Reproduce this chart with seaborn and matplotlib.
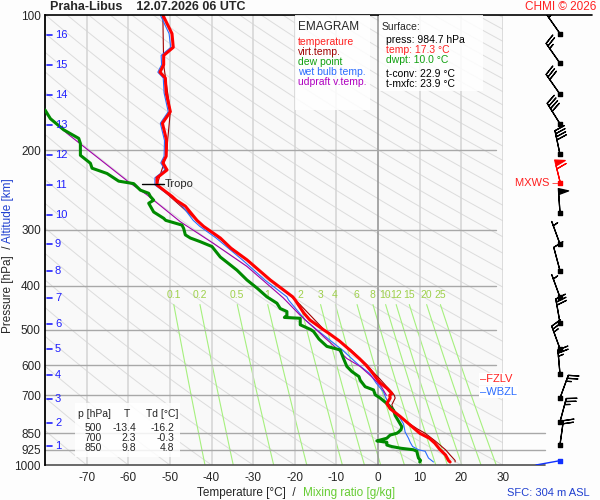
import numpy as np
import matplotlib
matplotlib.use("Agg")
import matplotlib.pyplot as plt
import seaborn as sns
from matplotlib.patches import Rectangle

# ---- sounding data ----
p_temp = [984.7, 977, 950, 925, 894, 872, 850, 815, 780, 750, 730, 710, 700, 694, 675, 657,
          636, 620, 600, 580, 555, 530, 510, 500, 476, 460, 440, 430, 423, 388, 350, 330,
          313, 295, 286, 266, 258, 253, 245, 238.6, 230, 221, 213, 206, 190, 174, 164, 149,
          138, 134, 129, 123, 118, 110, 100]
temp = [17.3, 16.9, 16.2, 14.9, 13.6, 12.3, 10.0, 7.7, 5.3, 2.9, 2.1, 2.9, 2.8, 3.3, 2.1, 0.5,
        -0.7, -1.6, -2.9, -4.5, -6.8, -9.3, -11.8, -13.2, -16.4, -17.8, -19.2, -19.9, -20.5,
        -25.9, -31.5, -35.3, -37.9, -41.9, -43.5, -46.3, -48.5, -49.5, -51.5, -53.1, -53.1,
        -50.7, -51.7, -50.9, -50.8, -51.8, -49.9, -50.9, -51.1, -52.4, -51.5, -51.5, -49.2,
        -49.5, -51.7]

p_virt = [984.7, 977, 950, 925, 884, 850, 832, 790, 755, 735, 710, 700, 688, 670, 642, 620,
          600, 555, 500, 430, 388, 350, 295, 238.6, 206, 164, 129, 100]
virt = [18.5, 18.5, 17.3, 16.2, 13.7, 11.3, 9.5, 5.8, 3.8, 3.3, 4.1, 3.9, 3.3, 2.1, 0.3, -1.3,
        -2.6, -6.5, -13.0, -19.8, -25.8, -31.5, -41.9, -53.1, -50.9, -49.9, -51.5, -51.7]

p_dew = [984.7, 977, 965, 950, 932, 925, 918, 910, 903, 895, 890, 884, 880, 872, 858, 850,
         845, 835, 822, 810, 790, 776, 755, 730, 710, 698, 681, 670, 648, 636, 620, 604,
         580, 555, 545, 525, 505, 500, 488, 472, 470, 465, 456, 449, 437, 423, 405, 388,
         369, 345, 327, 319, 313, 308, 298, 293, 286, 283, 274, 262, 258, 253, 249, 245,
         237, 234, 225, 219, 213.5, 205, 193, 188, 180, 170, 162.5]
dew = [10.0, 10.2, 9.7, 9.5, 9.3, 8.5, 5.5, 3.3, 2.1, 2.1, 2.1, -0.3, 0.5, 2.1, 2.9, 4.5,
       4.9, 5.5, 5.7, 5.3, 4.6, 4.1, 3.7, 2.1, 0.5, -0.7, -1.1, -3.1, -4.3, -4.6, -6.3, -7.5,
       -8.3, -9.1, -12.3, -14.2, -15.5, -16.2, -18.7, -18.7, -22.5, -21.9, -21.9, -23.5,
       -24.3, -26.7, -29.0, -31.5, -33.9, -37.9, -39.9, -42.7, -45.1, -46.3, -46.7, -47.1,
       -51.0, -51.5, -53.9, -55.1, -53.9, -54.7, -55.1, -57.1, -58.7, -62.3, -65.1, -68.7,
       -69.1, -71.5, -71.5, -71.9, -75.5, -78.7, -80.0]

p_wet = [984.7, 965, 932, 925, 910, 890, 872, 845, 810, 780, 730, 700, 688, 657, 626, 600,
         555, 500, 476, 430, 423, 388, 350, 313, 295, 286, 266, 253, 238.6, 230, 221, 213,
         206, 190, 174, 164, 149, 138, 134, 129, 123, 118, 110, 100]
wet = [13.3, 12.1, 11.3, 9.7, 8.3, 7.7, 7.3, 6.5, 6.1, 5.0, 2.5, 1.6, 1.3, -0.5, -2.0, -4.6,
       -8.6, -14.8, -17.5, -21.5, -21.9, -27.2, -32.6, -38.9, -42.8, -44.4, -47.0, -49.8,
       -53.6, -53.6, -51.2, -52.2, -51.4, -51.3, -52.3, -50.4, -51.4, -51.6, -52.9, -52.0,
       -52.1, -49.8, -50.2, -52.3]

p_updraft = [700, 670, 642, 604, 580, 545, 502, 465, 425, 362, 322, 288, 251, 236.6, 183.3, 166.8]
updraft = [2.0, 0.8, -1.1, -4.3, -7.5, -10.5, -14.7, -18.7, -22.8, -31.5, -39.5, -47.5, -55.5,
           -59.5, -74.7, -79.5]

# altitude marks [km] and the pressure where they sit
alt_km = [1, 2, 3, 4, 5, 6, 7, 8, 9, 10, 11, 12, 13, 14, 15, 16]
alt_p = [907, 808, 714, 631, 553, 487, 425, 371, 323, 278, 239, 205, 175.6, 150.6, 129, 110.8]

# wind: pressure, direction [deg], speed [kt]
wind_p = [110, 128, 150, 174.5, 204, 275, 323, 370, 424, 483, 552, 628, 710, 802, 901]
wind_dir = [325, 325, 325, 328, 348, 356, 340, 345, 340, 350, 340, 355, 20, 15, 8]
wind_spd = [5, 25, 30, 40, 40, 50, 5, 10, 5, 30, 25, 25, 25, 25, 20]
mxws_p, mxws_dir, mxws_spd = 236, 346, 60
sfc_p = 978

mix_ratios = [0.1, 0.2, 0.5, 1, 2, 3, 4, 6, 8, 10, 12, 15, 20, 25]
mix_labels = ['0.1', '0.2', '0.5', '1', '2', '3', '4', '6', '8', '10', '12', '15', '20', '25']

p_ticks = [100, 200, 300, 400, 500, 600, 700, 850, 925, 1000]
t_ticks = [-70, -60, -50, -40, -30, -20, -10, 0, 10, 20, 30]

table_p = ['500', '700', '850']
table_t = ['-13.4', '2.3', '9.8']
table_td = ['-16.2', '-0.3', '4.8']

# ---- style ----
sns.set_style("white")
plt.rcParams['font.family'] = ['Liberation Sans', 'DejaVu Sans']
plt.rcParams['font.size'] = 8

W, H = 600, 500
fig = plt.figure(figsize=(6, 5), dpi=100, facecolor='#fdfdfd')


def fx(x):
    return x / W


def fy(y):
    return 1 - y / H


ax = fig.add_axes([fx(45), fy(465), 458 / W, 450 / H])
ax.set_facecolor('#f9f9f9')
ax.set_yscale('log')
ax.set_xlim(-80, 30)
ax.set_ylim(1000, 100)

# dry adiabats
pp = np.logspace(np.log10(90), np.log10(1050), 80)
for th in np.arange(-80, 330, 10):
    ax.plot((th + 273.15) * (pp / 1000) ** 0.2857 - 273.15, pp, color='#dcdcdc', lw=0.7, zorder=1)

# mixing ratio lines
pm = np.linspace(440, 1050, 40)
for w, lab in zip(mix_ratios, mix_labels):
    e = w * pm / (622 + w)
    ln = np.log(e / 6.112)
    ax.plot(243.5 * ln / (17.67 - ln), pm, color='#a6f07e', lw=0.8, zorder=2)
    e0 = w * 437 / (622 + w)
    l0 = np.log(e0 / 6.112)
    ax.text(243.5 * l0 / (17.67 - l0), 418, lab, color='#9ed04a', fontsize=7.5, ha='center', va='center', zorder=3)

# grid
for t in t_ticks:
    ax.axvline(t, color='#909090' if t == 0 else '#d4d4d4', lw=1.1, zorder=2)
for p in p_ticks[1:-1]:
    ext = 40 if p >= 850 else 28.3
    ax.plot([-80, ext], [p, p], color='#a8a8a8', lw=1.0, zorder=2, clip_on=False)
ax.plot([-80, 40], [1000, 1000], color='#505050', lw=1.2, zorder=2, clip_on=False)
ax.plot([-80, 51.3], [100, 100], color='black', lw=1.2, zorder=6, clip_on=False)

for s in ['top', 'right', 'bottom']:
    ax.spines[s].set_visible(False)
ax.spines['left'].set_color('black')
ax.spines['left'].set_linewidth(1.3)

ax.set_yticks(p_ticks)
ax.set_yticklabels([str(p) for p in p_ticks], fontsize=8.5)
ax.yaxis.set_minor_locator(matplotlib.ticker.NullLocator())
ax.set_xticks(t_ticks)
ax.set_xticklabels([str(t) for t in t_ticks], fontsize=8.5)
ax.tick_params(length=0, pad=3)
ax.tick_params(axis='x', pad=5)

# profiles
sns.lineplot(x=virt, y=p_virt, sort=False, estimator=None, color='#a00000', lw=0.8, ax=ax, zorder=4)
sns.lineplot(x=wet, y=p_wet, sort=False, estimator=None, color='#2a6cff', lw=0.8, ax=ax, zorder=4)
sns.lineplot(x=updraft, y=p_updraft, sort=False, estimator=None, color='#a000a8', lw=0.8, ax=ax, zorder=4)
sns.lineplot(x=dew, y=p_dew, sort=False, estimator=None, color='#008a00', lw=2.2, ax=ax, zorder=5)
sns.lineplot(x=temp, y=p_temp, sort=False, estimator=None, color='#ff0000', lw=2.2, ax=ax, zorder=5)
ax.set_xlabel('')
ax.set_ylabel('')

# tropopause mark
ax.plot([-56.6, -51.5], [237, 237], color='black', lw=1, zorder=6)
ax.text(-51.2, 237, 'Tropo', fontsize=8, va='center', ha='left', zorder=6)

# altitude marks
for km, p in zip(alt_km, alt_p):
    ax.plot([-79.5, -78.2], [p, p], color='#1f1fff', lw=1.2, zorder=6)
    ax.text(-77.6, p, str(km), color='#1f1fff', fontsize=8, va='center', ha='left', zorder=6)

# level labels
ax.text(24.5, 644, '\u2013FZLV', color='#ff2020', fontsize=8, va='center', ha='left', zorder=7,
        clip_on=False, bbox=dict(facecolor='white', edgecolor='none', pad=0.6))
ax.text(24.5, 688, '\u2013WBZL', color='#2a6cff', fontsize=8, va='center', ha='left', zorder=7,
        clip_on=False, bbox=dict(facecolor='white', edgecolor='none', pad=0.6))
ax.text(32.8, 236, 'MXWS \u2013', color='#ff2020', fontsize=8, va='center', ha='left', clip_on=False)

# boxes
ax.add_patch(Rectangle((fx(295), fy(110)), 75 / W, 95 / H, transform=fig.transFigure,
                       facecolor='white', edgecolor='none', alpha=0.85, zorder=8))
ax.add_patch(Rectangle((fx(379), fy(91)), 104 / W, 76 / H, transform=fig.transFigure,
                       facecolor='white', edgecolor='none', alpha=0.85, zorder=8))
ax.add_patch(Rectangle((fx(75), fy(457)), 105 / W, 54 / H, transform=fig.transFigure,
                       facecolor='white', edgecolor='none', alpha=0.85, zorder=8))

fig.text(fx(298), fy(27), 'EMAGRAM', fontsize=8.5, va='center', zorder=9)
legend_items = [('temperature', '#ff2020'), ('virt.temp.', '#a00000'), ('dew point', '#10a010'),
                ('wet bulb temp.', '#2a6cff'), ('udpraft v.temp.', '#b000c0')]
for i, (lab, col) in enumerate(legend_items):
    fig.text(fx(298), fy(42 + 10 * i), lab, color=col, fontsize=7.5, va='center', zorder=9)

fig.text(fx(382), fy(27), 'Surface:', fontsize=7.5, va='center', zorder=9)
sfc_items = [('press: 984.7 hPa', 'black', 40), ('temp: 17.3 \u00b0C', '#ff2020', 50),
             ('dwpt: 10.0 \u00b0C', '#10a010', 60), ('t-conv: 22.9 \u00b0C', 'black', 74),
             ('t-mxfc: 23.9 \u00b0C', 'black', 84)]
for lab, col, y in sfc_items:
    fig.text(fx(386), fy(y), lab, color=col, fontsize=7.5, va='center', zorder=9)

fig.text(fx(78), fy(414), 'p [hPa]', fontsize=7.5, va='center', zorder=9)
fig.text(fx(127), fy(414), 'T', fontsize=7.5, va='center', ha='center', zorder=9)
fig.text(fx(146), fy(414), 'Td [\u00b0C]', fontsize=7.5, va='center', zorder=9)
for i in range(3):
    y = 428 + 10 * i
    fig.text(fx(102), fy(y), table_p[i], fontsize=7.5, va='center', ha='right', zorder=9)
    fig.text(fx(136), fy(y), table_t[i], fontsize=7.5, va='center', ha='right', zorder=9)
    fig.text(fx(174), fy(y), table_td[i], fontsize=7.5, va='center', ha='right', zorder=9)

# titles and axis labels
fig.text(fx(50), fy(7), 'Praha-Libus    12.07.2026 06 UTC', fontsize=9, fontweight='bold', va='center')
fig.text(fx(596), fy(7), 'CHMI \u00a9 2026', fontsize=8.5, color='#ff2020', va='center', ha='right')
fig.text(fx(197), fy(493), 'Temperature [\u00b0C]  /', fontsize=8.5, va='center')
fig.text(fx(303), fy(493), 'Mixing ratio [g/kg]', fontsize=8.5, color='#66cc33', va='center')
fig.text(fx(590), fy(493), 'SFC: 304 m ASL', fontsize=8, color='#2040d0', va='center', ha='right')
fig.text(fx(8), fy(333), 'Pressure [hPa]  /', fontsize=8.5, rotation=90, ha='center', va='bottom')
fig.text(fx(8), fy(243), 'Altitude [km]', fontsize=8.5, rotation=90, ha='center', va='bottom', color='#2040d0')

# wind barbs column
ax2 = fig.add_axes([fx(520), fy(465), 80 / W, 450 / H])
ax2.set_yscale('log')
ax2.set_ylim(1000, 100)
ax2.set_xlim(-1, 1)
ax2.axis('off')
d = np.radians(wind_dir)
u = -np.array(wind_spd) * np.sin(d)
v = -np.array(wind_spd) * np.cos(d)
blen = 5.9
bsizes = dict(spacing=0.13, height=0.42, width=0.25)
ax2.barbs(np.zeros(len(wind_p)), wind_p, u, v, length=blen, lw=0.9, color='black', sizes=bsizes)
dm = np.radians(mxws_dir)
ax2.barbs([0], [mxws_p], [-mxws_spd * np.sin(dm)], [-mxws_spd * np.cos(dm)], length=blen, lw=0.9,
          color='#ff0000', sizes=bsizes)
ax2.scatter(np.zeros(len(wind_p)), wind_p, marker='s', s=7, color='black', zorder=5)
ax2.scatter([0], [mxws_p], marker='s', s=7, color='#ff0000', zorder=5)
ax2.plot([0, -0.6], [sfc_p, 1000], color='#1030ff', lw=1)
ax2.scatter([0], [sfc_p], marker='s', s=7, color='#1030ff')

fig.savefig('out.png', dpi=100, facecolor=fig.get_facecolor())
